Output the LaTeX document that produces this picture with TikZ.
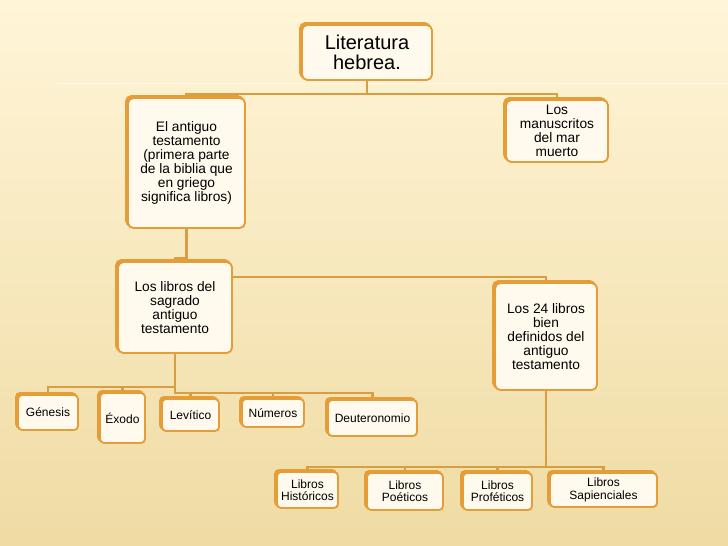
\documentclass[tikz,border=0pt]{standalone}
\usepackage{fontspec}
\setmainfont{Liberation Sans}
\usetikzlibrary{shadows,backgrounds}
\definecolor{bgtop}{RGB}{255,245,216}
\definecolor{bgbot}{RGB}{239,219,163}
\definecolor{boxline}{RGB}{229,157,55}
\definecolor{boxfill}{RGB}{255,249,238}
\definecolor{linkline}{RGB}{217,158,66}
\begin{document}
\begin{tikzpicture}[x=0.75pt,y=-0.75pt,
    box/.style={draw=boxline,line width=1.4pt,fill=boxfill,rounded corners=4pt,align=center,inner sep=1pt,
        copy shadow={shadow xshift=-1.5pt,shadow yshift=1.5pt,draw=boxline,fill=boxline}},
    big/.style={font=\fontsize{15}{15.5}\selectfont},
    mid/.style={font=\fontsize{10.3}{10.5}\selectfont},
    small/.style={font=\fontsize{9}{9.3}\selectfont,rounded corners=3pt},
    link/.style={draw=linkline,line width=1.6pt}]
        \useasboundingbox (0,0) rectangle (728,546);
        % first level
        \node[box,big,minimum width=97.5pt,minimum height=41.25pt] (lit) at (367,52.5) {Literatura\\hebrea.};
        \node[box,mid,minimum width=87.75pt,minimum height=97.5pt] (ant) at (186.5,163) {El antiguo\\testamento\\(primera parte\\de la biblia que\\en griego\\significa libros)};
        \node[box,mid,minimum width=76.5pt,minimum height=46.5pt] (man) at (557,131) {Los\\manuscritos\\del mar\\muerto};
        % second level
        \node[box,mid,minimum width=85.5pt,minimum height=68.25pt] (lib) at (175,307.5) {Los libros del\\sagrado\\antiguo\\testamento};
        \node[box,mid,minimum width=76.5pt,minimum height=80.25pt] (l24) at (546,336.5) {Los 24 libros\\bien\\definidos del\\antiguo\\testamento};
        % the five books
        \node[box,small,minimum width=45pt,minimum height=26.25pt] (gen) at (48,412.5) {Génesis};
        \node[box,small,minimum width=33.75pt,minimum height=37.5pt] (exo) at (122.5,418) {Éxodo};
        \node[box,small,minimum width=42.75pt,minimum height=24pt] (lev) at (190.5,415) {Levítico};
        \node[box,small,minimum width=46.5pt,minimum height=21pt] (num) at (273,413) {Números};
        \node[box,small,minimum width=66.75pt,minimum height=27pt] (deu) at (372.5,418) {Deuteronomio};
        % kinds of books
        \node[box,small,minimum width=45.75pt,minimum height=27pt] (his) at (307.5,490) {Libros\\Históricos};
        \node[box,small,minimum width=57pt,minimum height=27.75pt] (poe) at (405,491.5) {Libros\\Poéticos};
        \node[box,small,minimum width=51.75pt,minimum height=27.75pt] (pro) at (497.5,491.5) {Libros\\Proféticos};
        \node[box,small,minimum width=80.25pt,minimum height=25.5pt] (sap) at (603.5,490) {Libros\\Sapienciales};
        \begin{scope}[on background layer]
            \shade[top color=bgtop,bottom color=bgbot] (0,0) rectangle (728,546);
            \draw[white,opacity=0.7,line width=0.6pt] (56,83) -- (728,83);
            \draw[link] (lit.south) -- ++(0,13) -| (ant.north);
            \draw[link] (lit.south) -- ++(0,13) -| (man.north);
            \draw[link] (ant.south) -- ++(0,29) -| (lib.north);
            \draw[link] (lib.north) ++(0,16) -| (l24.north);
            \foreach \b in {gen,exo}
                \draw[link] (lib.south) -- ++(0,33) -| (\b.north);
            \foreach \b in {lev,num,deu}
                \draw[link] (lib.south) -- ++(0,39) -| (\b.north);
            \foreach \b in {his,poe,pro,sap}
                \draw[link] (l24.south) -- ++(0,76) -| (\b.north);
        \end{scope}
    \end{tikzpicture}
\end{document}
